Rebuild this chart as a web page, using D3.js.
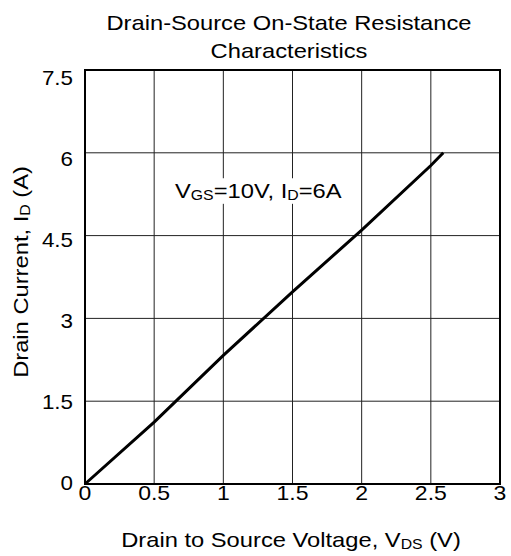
<!DOCTYPE html>
<html>
<head>
<meta charset="utf-8">
<script src="https://cdn.jsdelivr.net/npm/d3@7"></script>
<style>
  body { margin: 0; background: #fff; }
  text { font-family: "Liberation Sans", Arial, sans-serif; fill: #000; }
</style>
</head>
<body>
<div id="chart"></div>
<script>
(function () {

  // Data
  const vds = [0, 0.5, 1, 1.5, 2, 2.5, 2.59]
  const idCurrent = [0, 1.12, 2.33, 3.48, 4.6, 5.77, 6]
  const xTicks = [0, 0.5, 1, 1.5, 2, 2.5, 3]
  const yTicks = [0, 1.5, 3, 4.5, 6, 7.5]
  const titleLines = ["Drain-Source On-State Resistance", "Characteristics"]

  const points = vds.map((v, i) => ({ v: v, i: idCurrent[i] }))

  // Margin convention
  const margin = { top: 70, right: 11, bottom: 72, left: 85 }
  const width = 511 - margin.left - margin.right
  const height = 556 - margin.top - margin.bottom

  // text in the source is a bit wider than plain Arial
  const stretch = 1.13
  const place = (px, py) => "translate(" + px + "," + py + ") scale(" + stretch + ",1)"

  const root = d3.select("#chart").append("svg")
      .attr("width", 511)
      .attr("height", 556)

  const svg = root.append("g")
      .attr("transform", "translate(" + margin.left + "," + margin.top + ")")

  const x = d3.scaleLinear().domain([0, 3]).range([0, width])
  const y = d3.scaleLinear().domain([0, 7.5]).range([height, 0])
  // y labels drift a little against the grid in the source
  const yLabel = d3.scaleLinear().domain([0, 7.5]).range([height + 6, 15])

  // Grid
  svg.append("g")
    .selectAll("line")
    .data(xTicks.slice(1, -1))
    .join("line")
      .attr("x1", d => x(d)).attr("x2", d => x(d))
      .attr("y1", 0).attr("y2", height)
      .attr("stroke", "#222")
      .attr("stroke-width", 1)

  svg.append("g")
    .selectAll("line")
    .data(yTicks.slice(1, -1))
    .join("line")
      .attr("x1", 0).attr("x2", width)
      .attr("y1", d => y(d)).attr("y2", d => y(d))
      .attr("stroke", "#222")
      .attr("stroke-width", 1)

  // Tick labels
  svg.append("g")
    .selectAll("text")
    .data(xTicks)
    .join("text")
      .attr("transform", d => "translate(" + x(d) + "," + (height + 16) + ") scale(1.15,1)")
      .attr("text-anchor", "middle")
      .style("font-size", "20px")
      .text(d => d)

  svg.append("g")
    .selectAll("text")
    .data(yTicks)
    .join("text")
      .attr("transform", d => "translate(-12," + yLabel(d) + ") scale(1.12,1)")
      .attr("text-anchor", "end")
      .style("font-size", "20px")
      .text(d => d)

  // Annotation with white box behind it
  const note = svg.append("g").attr("transform", place(90, 128))
  const noteBox = note.append("rect").attr("fill", "#fff")
  const noteText = note.append("text")
      .style("font-size", "21px")
  noteText.append("tspan").text("V")
  noteText.append("tspan").attr("dy", 2).style("font-size", "14px").text("GS")
  noteText.append("tspan").attr("dy", -2).text("=10V, I")
  noteText.append("tspan").attr("dy", 2).style("font-size", "14px").text("D")
  noteText.append("tspan").attr("dy", -2).text("=6A")
  const bb = noteText.node().getBBox()
  noteBox.attr("x", bb.x - 2).attr("y", bb.y - 1)
    .attr("width", bb.width + 4).attr("height", bb.height + 2)

  // Data line
  const line = d3.line().x(d => x(d.v)).y(d => y(d.i))
  svg.append("path")
    .datum(points)
    .attr("d", line)
    .attr("fill", "none")
    .attr("stroke", "#000")
    .attr("stroke-width", 3)

  // Frame
  svg.append("rect")
    .attr("width", width).attr("height", height)
    .attr("fill", "none")
    .attr("stroke", "#000")
    .attr("stroke-width", 2)

  // Title
  root.append("g")
    .selectAll("text")
    .data(titleLines)
    .join("text")
      .attr("transform", (d, i) => place(289, 30 + i * 28))
      .attr("text-anchor", "middle")
      .style("font-size", "21px")
      .text(d => d)

  // X axis title
  const xt = root.append("text")
      .attr("transform", place(291, 547))
      .attr("text-anchor", "middle")
      .style("font-size", "21px")
  xt.append("tspan").text("Drain to Source Voltage, V")
  xt.append("tspan").attr("dy", 2).style("font-size", "14px").text("DS")
  xt.append("tspan").attr("dy", -2).text(" (V)")

  // Y axis title
  const yt = root.append("text")
      .attr("transform", "translate(28,272) rotate(-90) scale(" + stretch + ",1)")
      .attr("text-anchor", "middle")
      .style("font-size", "21px")
  yt.append("tspan").text("Drain Current, I")
  yt.append("tspan").attr("dy", 2).style("font-size", "14px").text("D")
  yt.append("tspan").attr("dy", -2).text(" (A)")

})();
</script>
</body>
</html>
